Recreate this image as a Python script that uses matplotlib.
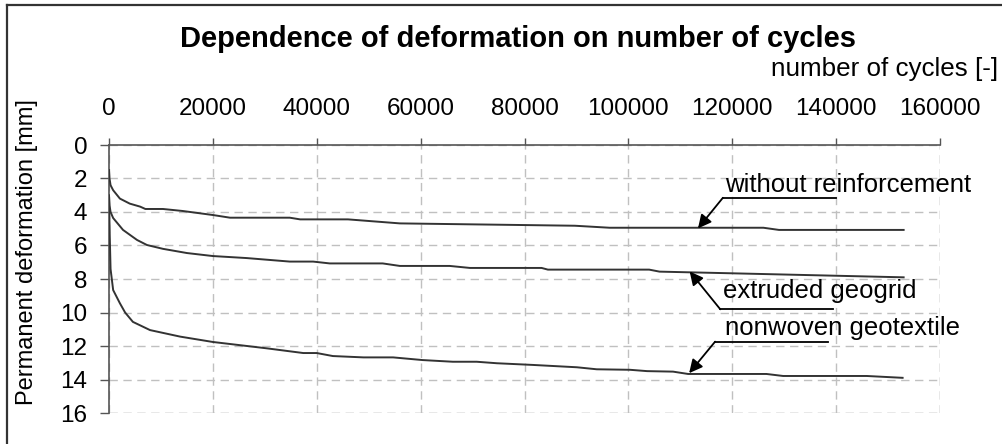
import matplotlib
matplotlib.use("Agg")
import matplotlib.pyplot as plt
from matplotlib.lines import Line2D

plt.rcParams["font.family"] = ["Liberation Sans", "DejaVu Sans"]

# data
cycles_wr = [0, 100, 300, 800, 2100, 4000, 6000, 7000, 10400, 14200, 20000, 23300,
             34800, 36800, 46000, 56000, 89700, 96400, 126000, 129000, 153000]
defo_wr = [1.5, 2.0, 2.4, 2.7, 3.2, 3.5, 3.68, 3.82, 3.82, 3.94, 4.18, 4.34,
           4.34, 4.44, 4.44, 4.68, 4.82, 4.94, 4.94, 5.07, 5.07]

cycles_eg = [0, 100, 300, 800, 2700, 5400, 7300, 10400, 15000, 20000, 26500, 34800,
             39300, 42500, 52700, 56000, 65600, 69500, 83300, 84500, 104000, 106000,
             120000, 153000]
defo_eg = [3.0, 3.6, 4.0, 4.36, 5.07, 5.67, 5.97, 6.2, 6.45, 6.63, 6.75, 6.96,
           6.96, 7.07, 7.07, 7.22, 7.22, 7.34, 7.34, 7.44, 7.44, 7.56,
           7.66, 7.9]

cycles_ng = [0, 150, 300, 800, 2100, 3100, 4600, 7900, 13700, 20000, 30400, 37400,
             40000, 43100, 49000, 54700, 60400, 66200, 70800, 74700, 81600, 90100,
             93900, 100300, 103600, 108600, 111500, 126600, 129800, 145900, 152800]
defo_ng = [3.2, 5.5, 7.4, 8.66, 9.45, 10.0, 10.56, 11.05, 11.44, 11.76, 12.14, 12.42,
           12.42, 12.6, 12.68, 12.68, 12.84, 12.94, 12.94, 13.03, 13.13, 13.27,
           13.39, 13.42, 13.5, 13.53, 13.67, 13.67, 13.79, 13.79, 13.9]

x_ticks = list(range(0, 160001, 20000))
y_ticks = list(range(0, 17, 2))

# label text, arrow tip (cycles, mm), leader start/end, leader height, text baseline
labels = ["without reinforcement", "extruded geogrid", "nonwoven geotextile"]
arrow_tips = [(113400, 4.98), (111800, 7.55), (111700, 13.62)]
leader_x = [(118200, 139900), (117700, 139400), (116700, 138400)]
leader_y = [3.15, 9.81, 11.74]
text_pos = [(118600, 2.81), (118200, 9.13), (118600, 11.34)]

LINE = "#333333"
GRID = "#c0c0c0"

fig = plt.figure(figsize=(10.02, 4.44), dpi=100, facecolor="white")
ax = fig.add_axes([109 / 1002, 1 - 413 / 444, 831 / 1002, 268 / 444])

for xs, ys in [(cycles_wr, defo_wr), (cycles_eg, defo_eg), (cycles_ng, defo_ng)]:
    ax.plot(xs, ys, color=LINE, linewidth=1.4, zorder=3)

ax.set_xlim(0, 160000)
ax.set_ylim(16, 0)
ax.xaxis.tick_top()
ax.set_xticks(x_ticks)
ax.set_xticklabels([str(v) for v in x_ticks])
ax.set_yticks(y_ticks)
ax.set_yticklabels([str(v) for v in y_ticks])
ax.tick_params(axis="x", direction="out", length=5, width=1, color="#555555",
               labelsize=17.5, pad=13)
ax.tick_params(axis="y", direction="out", length=6.5, width=1, color="#555555",
               labelsize=17.5, pad=9)

ax.grid(True, color=GRID, linestyle=(0, (6, 4)), linewidth=1, zorder=0)
for side in ["right", "bottom"]:
    ax.spines[side].set_visible(False)
for side in ["left", "top"]:
    ax.spines[side].set_color("#555555")
    ax.spines[side].set_linewidth(1.2)
# dashed edges at the far limits like the gridlines
ax.axvline(160000, color=GRID, linestyle=(0, (6, 4)), linewidth=1, zorder=0)
ax.axhline(16, color=GRID, linestyle=(0, (6, 4)), linewidth=1, zorder=0)

for lab, tip, lx, ly, tp in zip(labels, arrow_tips, leader_x, leader_y, text_pos):
    ax.plot(lx, [ly, ly], color="black", linewidth=1.3, zorder=4, clip_on=False)
    ax.annotate("", xy=tip, xytext=(lx[0], ly),
                arrowprops=dict(arrowstyle="-|>", color="black", lw=1.3,
                                mutation_scale=20, shrinkA=0, shrinkB=0),
                zorder=4)
    ax.text(tp[0], tp[1], lab, fontsize=18.5, color="black", ha="left",
            va="baseline", zorder=5)

fig.text(518 / 1002, 1 - 47 / 444, "Dependence of deformation on number of cycles",
         fontsize=21, fontweight="bold", ha="center", va="baseline")
fig.text(998 / 1002, 1 - 76 / 444, "number of cycles [-]", fontsize=18.7,
         ha="right", va="baseline")
fig.text(27 / 1002, 1 - 252 / 444, "Permanent deformation [mm]", fontsize=17,
         rotation=90, ha="center", va="center")

# outer frame (left and top edges are visible in the crop)
fig.add_artist(Line2D([7 / 1002, 7 / 1002], [0, 1 - 5 / 444], color="#333333",
                      linewidth=1.6, transform=fig.transFigure))
fig.add_artist(Line2D([7 / 1002, 1], [1 - 5 / 444, 1 - 5 / 444], color="#333333",
                      linewidth=1.6, transform=fig.transFigure))

fig.savefig("out.png", dpi=100, facecolor="white")
